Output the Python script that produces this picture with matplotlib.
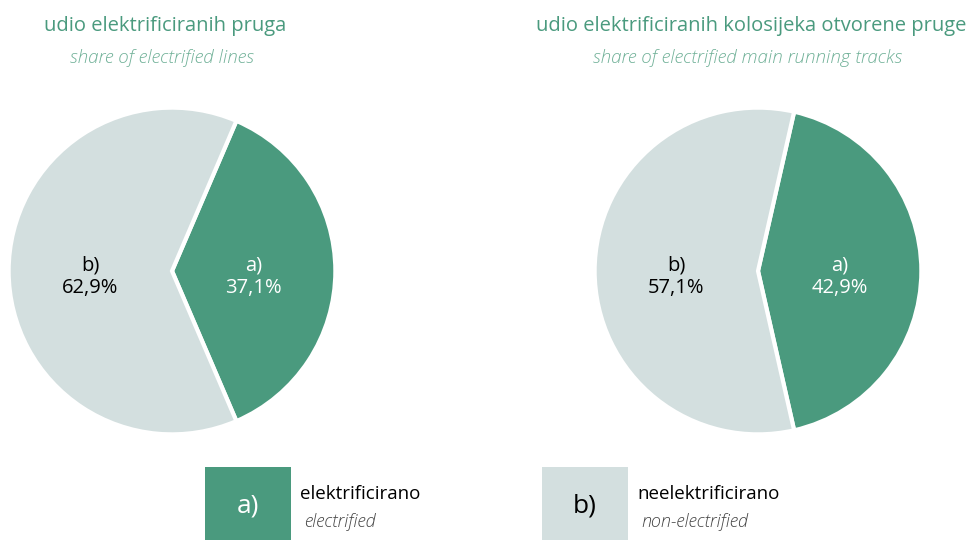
import matplotlib
matplotlib.use("Agg")
from matplotlib import pyplot as plt
from matplotlib.patches import Rectangle
import numpy as np

# data
labels = ["a)", "b)"]
lines_share = [37.1, 62.9]
tracks_share = [42.9, 57.1]
titles = ["udio elektrificiranih pruga", "udio elektrificiranih kolosijeka otvorene pruge"]
subtitles = ["share of electrified lines", "share of electrified main running tracks"]
legend_hr = ["elektrificirano", "neelektrificirano"]
legend_en = ["electrified", "non-electrified"]

green = "#4a9a7e"
grey = "#d3dfdf"
title_col = "#4a9a7e"
sub_col = "#6fb097"

plt.rcParams['font.family'] = ['Open Sans', 'DejaVu Sans']

W, H = 967, 540
fig = plt.figure(figsize=(W / 100, H / 100), dpi=100)


def px_axes(x0, y0, w, h):
    # top-left pixel coords -> figure fraction
    return fig.add_axes([x0 / W, 1 - (y0 + h) / H, w / W, h / H])


def fmt(v):
    return f"{v:.1f}".replace(".", ",") + "%"


centers = [172, 758]
r = 165
for cx, share, title, sub in zip(centers, [lines_share, tracks_share], titles, subtitles):
    ax = px_axes(cx - r, 271 - r, 2 * r, 2 * r)
    start = share[0] * 360 / 100 / 2
    wedges, _ = ax.pie(share, colors=[green, grey], startangle=start, counterclock=False,
                       wedgeprops=dict(edgecolor="white", linewidth=3), radius=1)
    ax.set_xlim(-1.01, 1.01)
    ax.set_ylim(-1.01, 1.01)
    for w, lab, v, tc in zip(wedges, labels, share, ["white", "black"]):
        ang = np.deg2rad((w.theta1 + w.theta2) / 2)
        ax.text(0.5 * np.cos(ang), 0.5 * np.sin(ang) - 0.035, f"{lab}\n{fmt(v)}",
                ha="center", va="center", color=tc, fontsize=14.5, linespacing=1.2)
    fig.text((cx - 7) / W, 1 - 26 / H, title, ha="center", va="center",
             color=title_col, fontsize=14.5)
    fig.text((cx - 10) / W, 1 - 58 / H, sub, ha="center", va="center",
             color=sub_col, fontsize=13.5, style="italic", fontweight="light")

# legend boxes
for x0, col, lab, hr, en, tc in zip([205, 542], [green, grey], labels, legend_hr, legend_en,
                                    ["white", "black"]):
    fig.patches.append(Rectangle((x0 / W, 0), 86 / W, 73 / H, transform=fig.transFigure,
                                 facecolor=col, edgecolor="none"))
    fig.text((x0 + 43) / W, 1 - 506 / H, lab, ha="center", va="center", color=tc, fontsize=19)
    fig.text((x0 + 95) / W, 1 - 494 / H, hr, ha="left", va="center", color="black", fontsize=13.5)
    fig.text((x0 + 99) / W, 1 - 522 / H, en, ha="left", va="center", color="#444444",
             fontsize=13, style="italic", fontweight="light")

fig.savefig("out.png", dpi=100)
